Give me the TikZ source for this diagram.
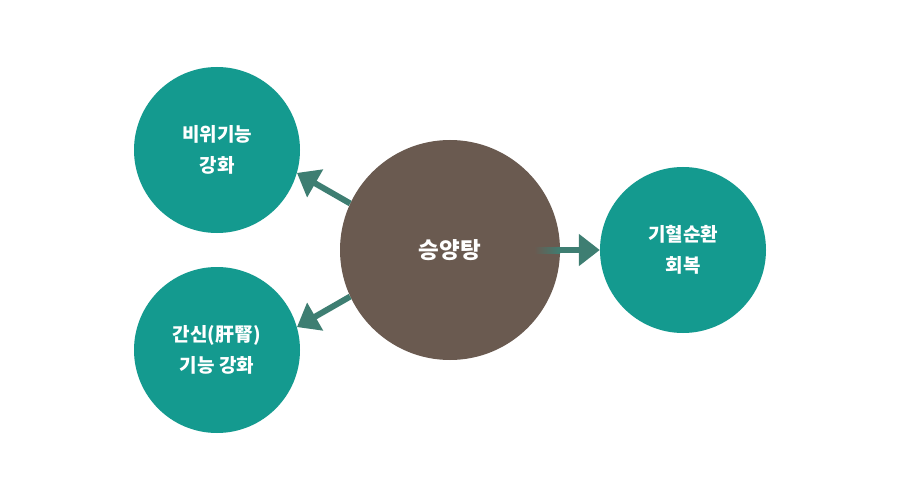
\documentclass[tikz,border=0pt]{standalone}
\usepackage{fontspec}
\usepackage{tikz}
\usetikzlibrary{arrows.meta, positioning}
\newfontfamily\krfont{Noto Sans CJK KR}
\definecolor{herbteal}{HTML}{149A8F}
\definecolor{herbbrown}{HTML}{6A5A50}
\definecolor{herbarrow}{HTML}{3E7E72}

\begin{document}
\begin{tikzpicture}[
    x=1pt, y=-1pt,
    every node/.style={font=\krfont\bfseries, text=white, align=center},
    effectball/.style={circle, fill=herbteal, minimum size=166pt, inner sep=0pt, font=\krfont\bfseries\fontsize{19}{31}\selectfont},
    herbball/.style={circle, fill=herbbrown, minimum size=220pt, inner sep=0pt, font=\krfont\bfseries\fontsize{22.5}{30}\selectfont},
    effectarrow/.style={draw=herbarrow, line width=6pt, -{Triangle[length=21pt, width=31pt]}},
]
\useasboundingbox (0,0) rectangle (900,500);

\node[herbball] (main) at (450,250) {};
\node[effectball] (spleen) at (217,150) {비위기능\\강화};
\node[effectball] (liver) at (217,350) {간신(肝腎)\\기능 강화};
\node[effectball] (blood) at (683,250) {기혈순환\\회복};

% faded start of the right arrow inside the big circle
\fill[left color=herbbrown, right color=herbarrow] ([xshift=-26pt, yshift=3pt]main.east) rectangle ([yshift=-3pt]main.east);
\node[herbball, fill=none] at (main) {승양탕};

\draw[effectarrow] (main.155) -- (spleen.-16);
\draw[effectarrow] (main.205) -- (liver.16);
\draw[effectarrow] (main.east) -- (blood.west);

\end{tikzpicture}
\end{document}
